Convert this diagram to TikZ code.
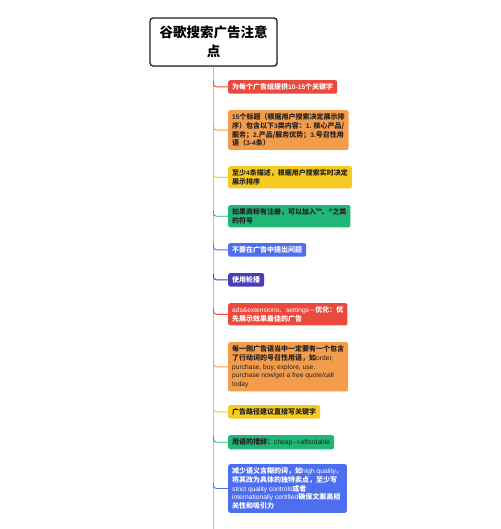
\documentclass[tikz,border=0pt]{standalone}
\usepackage{fontspec}
\setmainfont{Noto Sans CJK SC}
\newfontfamily\lat{Liberation Sans}[Scale=0.95]
\usetikzlibrary{shadows}
\definecolor{cred}{HTML}{EA4A3D}
\definecolor{corange}{HTML}{F39C4B}
\definecolor{cyellow}{HTML}{F4CA23}
\definecolor{cgreen}{HTML}{1FB676}
\definecolor{cblue}{HTML}{4E6EF0}
\definecolor{cpurple}{HTML}{4A3EB8}
\definecolor{ctrunk}{HTML}{E4B873}
\definecolor{cdark}{HTML}{222222}
\begin{document}
\begin{tikzpicture}[x=1pt,y=-1pt,
  box/.style={rounded corners=2pt, anchor=north west, inner xsep=4pt, inner ysep=3.3pt,
    align=left, font=\fontsize{7}{8.8}\selectfont},
  conn/.style={line width=0.9pt, rounded corners=3pt},
  titlebox/.style={draw=cdark, line width=1.3pt, fill=white, rounded corners=3pt,
    minimum width=127pt, minimum height=48pt, align=center,
    font=\bfseries\fontsize{13.5}{19}\selectfont,
    drop shadow={shadow xshift=1pt, shadow yshift=-1.5pt, opacity=0.25}}
]
\useasboundingbox[fill=white] (0,0) rectangle (500,529);
\node[titlebox] (t) at (213.5,42) {谷歌搜索广告注意\\点};
\draw[ctrunk, line width=1pt] (t.south) -- (213.5,529);

\node[box, fill=cred, text=white] (b1) at (228,80) {\bfseries 为每个广告组提供{\lat 10-15}个关键字};
\node[box, fill=corange, text=cdark] (b2) at (228,110) {\bfseries {\lat 15}个标题（根据用户搜索决定展示排\\\bfseries 序）包含以下{\lat 3}类内容：{\lat 1.} 核心产品/\\\bfseries 服务；{\lat 2.}产品/服务优势；{\lat 3.}号召性用\\\bfseries 语（{\lat 3-4}条）};
\node[box, fill=cyellow, text=cdark] (b3) at (228,166) {\bfseries 至少{\lat 4}条描述，根据用户搜索实时决定\\\bfseries 展示排序};
\node[box, fill=cgreen, text=cdark] (b4) at (228,205) {\bfseries 如果商标有注册，可以加入™、®之类\\\bfseries 的符号};
\node[box, fill=cblue, text=white] (b5) at (228,243) {\bfseries 不要在广告中提出问题};
\node[box, fill=cpurple, text=white] (b6) at (228,273) {\bfseries 使用轮播};
\node[box, fill=cred, text=white] (b7) at (228,303) {{\lat ads\&extensions}、{\lat settings}—\textbf{优化：优}\\\textbf{先展示效果最佳的广告}};
\node[box, fill=corange, text=cdark] (b8) at (228,342) {\textbf{每一则广告语当中一定要有一个包含}\\\textbf{了行动词的号召性用语，如}{\lat order,}\\{\lat purchase, buy, explore, use,}\\{\lat purchase now/get a free quote/call}\\{\lat today}};
\node[box, fill=cyellow, text=cdark] (b9) at (228,405) {\bfseries 广告路径建议直接写关键字};
\node[box, fill=cgreen, text=cdark] (b10) at (228,435) {\textbf{用语的措辞：}{\lat cheap-->affordable}};
\node[box, fill=cblue, text=white] (b11) at (228,464) {\textbf{减少语义含糊的词，如}{\lat high quality}，\\\textbf{将其改为具体的独特卖点，至少写}\\{\lat strict quality controls}\textbf{或者}\\{\lat internationally certified}\textbf{确保文案高相}\\\textbf{关性和吸引力}};

\draw[conn, cred] (b1.west) -| ++(-14.5,-6);
\draw[conn, corange] (b2.west) -| ++(-14.5,-6);
\draw[conn, cyellow] (b3.west) -| ++(-14.5,-6);
\draw[conn, cgreen] (b4.west) -| ++(-14.5,-6);
\draw[conn, cblue] (b5.west) -| ++(-14.5,-6);
\draw[conn, cpurple] (b6.west) -| ++(-14.5,-6);
\draw[conn, cred] (b7.west) -| ++(-14.5,-6);
\draw[conn, corange] (b8.west) -| ++(-14.5,-6);
\draw[conn, cyellow] (b9.west) -| ++(-14.5,-6);
\draw[conn, cgreen] (b10.west) -| ++(-14.5,-6);
\draw[conn, cblue] (b11.west) -| ++(-14.5,-6);
\end{tikzpicture}
\end{document}
